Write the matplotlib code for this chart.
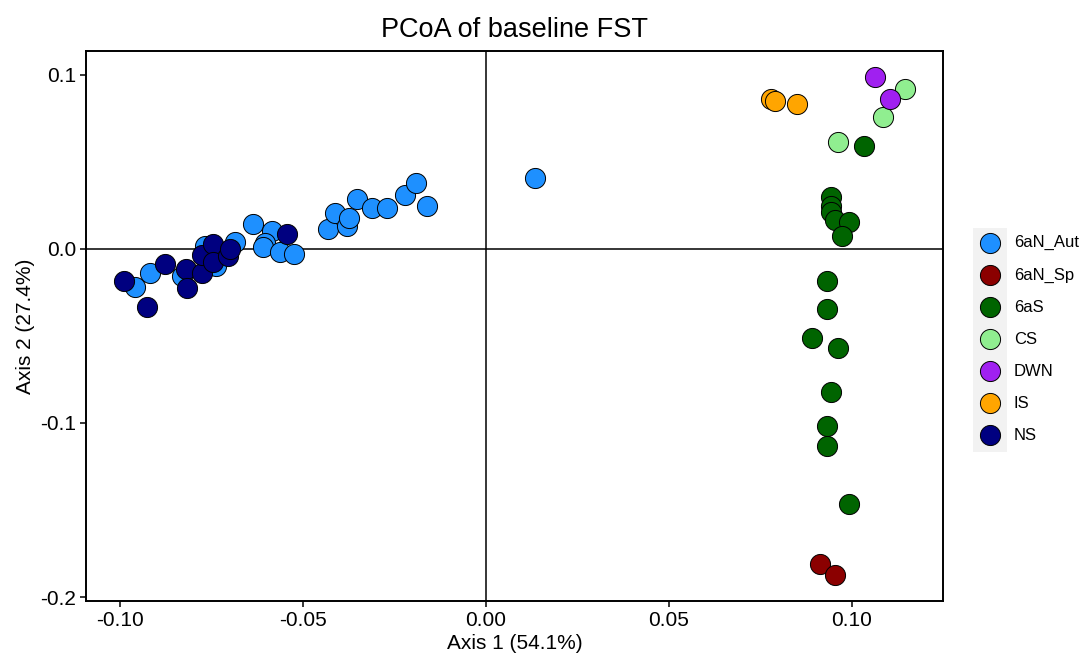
import matplotlib
matplotlib.use("Agg")
import matplotlib.pyplot as plt
from matplotlib.patches import Rectangle
from matplotlib.ticker import FixedLocator

plt.rcParams['font.family'] = ['Liberation Sans', 'DejaVu Sans']

# group order as in the legend
groups = ["6aN_Aut", "6aN_Sp", "6aS", "CS", "DWN", "IS", "NS"]
colors = ["#1E90FF", "#8B0000", "#006400", "#90EE90", "#A020F0", "#FFA500", "#000080"]

aut_x = [-0.0959, -0.0918, -0.0831, -0.0768, -0.0738, -0.0686, -0.0637, -0.0585,
         -0.0604, -0.0609, -0.0563, -0.0525, -0.0432, -0.0413, -0.0380, -0.0374,
         -0.0352, -0.0311, -0.0270, -0.0221, -0.0191, -0.0161, 0.0134]
aut_y = [-0.0217, -0.0137, -0.0154, 0.0017, -0.0097, 0.0040, 0.0143, 0.0103,
         0.0034, 0.0011, -0.0017, -0.0029, 0.0114, 0.0206, 0.0131, 0.0177,
         0.0286, 0.0234, 0.0234, 0.0309, 0.0377, 0.0246, 0.0406]

sp_x = [0.0913, 0.0954]
sp_y = [-0.1811, -0.1874]

s_x = [0.1033, 0.0942, 0.0942, 0.0942, 0.0954, 0.0993, 0.0972,
       0.0933, 0.0933, 0.0892, 0.0963, 0.0942, 0.0933, 0.0933, 0.0993]
s_y = [0.0589, 0.0297, 0.0246, 0.0213, 0.0164, 0.0156, 0.0074,
       -0.0187, -0.0347, -0.0510, -0.0568, -0.0821, -0.1017, -0.1131, -0.1463]

cs_x = [0.1145, 0.1084, 0.0963]
cs_y = [0.0918, 0.0756, 0.0617]

dwn_x = [0.1063, 0.1104]
dwn_y = [0.0989, 0.0859]

is_x = [0.0778, 0.0790, 0.0851]
is_y = [0.0861, 0.0850, 0.0830]

ns_x = [-0.0989, -0.0927, -0.0877, -0.0820, -0.0818, -0.0777, -0.0777, -0.0747,
        -0.0745, -0.0704, -0.0699, -0.0545]
ns_y = [-0.0183, -0.0335, -0.0084, -0.0116, -0.0225, -0.0141, -0.0034, 0.0030,
        -0.0078, -0.0040, -0.0002, 0.0088]

xs = [aut_x, sp_x, s_x, cs_x, dwn_x, is_x, ns_x]
ys = [aut_y, sp_y, s_y, cs_y, dwn_y, is_y, ns_y]

x_ticks = [-0.10, -0.05, 0.00, 0.05, 0.10]
x_labels = ["-0.10", "-0.05", "0.00", "0.05", "0.10"]
y_ticks = [0.1, 0.0, -0.1, -0.2]
y_labels = ["0.1", "0.0", "-0.1", "-0.2"]

fig = plt.figure(figsize=(10.86, 6.58), dpi=100)
ax = fig.add_axes([0.0792, 0.0866, 0.7891, 0.8359])

ax.axhline(0, color="black", lw=1.1, zorder=1)
ax.axvline(0, color="black", lw=1.1, zorder=1)

for gx, gy, name, col in zip(xs, ys, groups, colors):
    ax.scatter(gx, gy, s=210, c=col, edgecolors="black", linewidths=0.7,
               label=name, zorder=3)

ax.set_xlim(-0.1093, 0.1249)
ax.set_ylim(-0.2023, 0.1137)
ax.xaxis.set_major_locator(FixedLocator(x_ticks))
ax.set_xticklabels(x_labels)
ax.yaxis.set_major_locator(FixedLocator(y_ticks))
ax.set_yticklabels(y_labels)
ax.tick_params(direction="out", length=4, width=1.1, labelsize=15, pad=3,
               colors="black")

for sp in ax.spines.values():
    sp.set_linewidth(1.4)
    sp.set_color("black")

ax.set_xlabel("Axis 1 (54.1%)", fontsize=15, labelpad=3)
ax.set_ylabel("Axis 2 (27.4%)", fontsize=15, labelpad=4)
ax.set_title("PCoA of baseline FST", fontsize=19.5, pad=10)

# grey strip behind the legend keys only (text sits on white)
fig.patches.append(Rectangle((0.8959, 0.3131), 0.0313, 0.3404,
                             transform=fig.transFigure, facecolor="#F2F2F2",
                             edgecolor="none", zorder=0))

leg = fig.legend(loc="center left", bbox_to_anchor=(0.895, 0.485),
                 fontsize=12, frameon=False, labelspacing=1.02,
                 handletextpad=0.8, borderpad=0.45, borderaxespad=0,
                 scatterpoints=1, handlelength=1.25)
for h in leg.legend_handles:
    h.set_sizes([210])

fig.savefig("out.png", dpi=100)
